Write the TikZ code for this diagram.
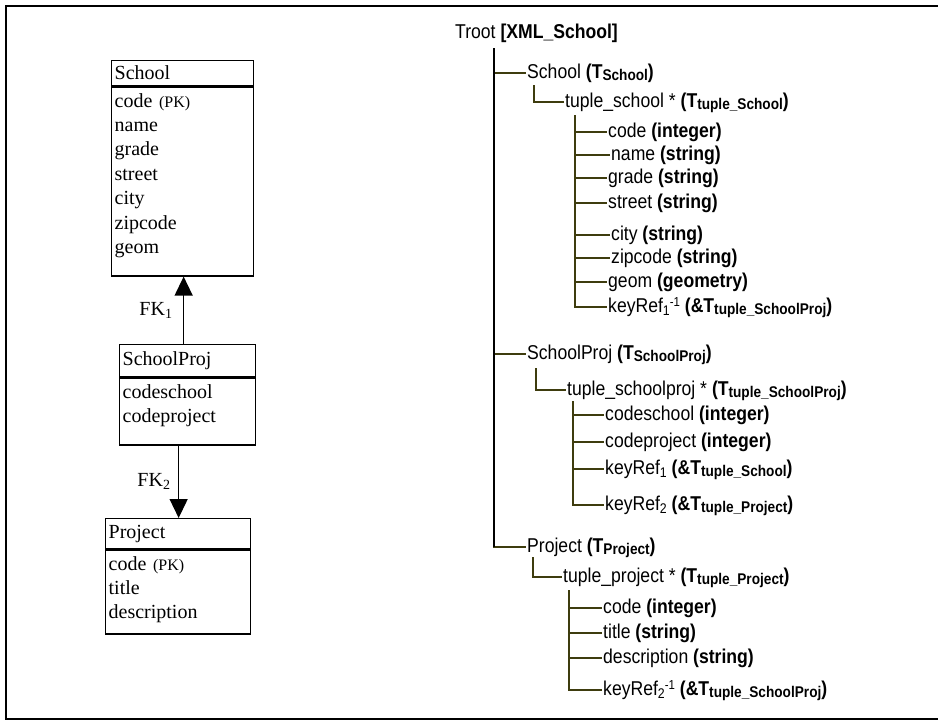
\documentclass[tikz,border=0pt]{standalone}
\usepackage{fontspec}
\setmainfont{Liberation Serif}
\newfontfamily\narrowsans[FakeStretch=0.88]{Liberation Sans}
\usetikzlibrary{arrows.meta}
\definecolor{branch}{RGB}{62,60,14}
% small lowered / raised text
\newcommand{\subtxt}[1]{\raisebox{-2pt}{\fontsize{15.5}{15.5}\selectfont #1}}
\newcommand{\idxlo}[1]{\raisebox{-3pt}{\fontsize{14}{14}\selectfont #1}}
\newcommand{\idxhi}[1]{\raisebox{6pt}{\fontsize{13}{13}\selectfont #1}}
\newcommand{\fieldbox}[2]{\parbox[c][#1][t]{\linewidth}{\strut #2}}

\begin{document}
\begin{tikzpicture}[
      x=1pt, y=-1pt,
      % relational tables on the left
      tabletitle/.style={draw, line width=1.3pt, anchor=north west, inner xsep=3pt,
                         inner ysep=0pt, align=left, font=\fontsize{20}{24.4}\selectfont},
      tablefields/.style={draw, line width=1.3pt, anchor=north west, inner xsep=3pt,
                          inner ysep=3pt, align=left, font=\fontsize{20}{24.4}\selectfont},
      fk/.style={line width=1.3pt, -{Triangle[length=19pt,width=18pt]}},
      fklabel/.style={font=\fontsize{20}{24}\selectfont, inner sep=0pt},
      % the XML type tree on the right
      item/.style={anchor=west, inner xsep=1pt, inner ysep=0pt, text height=14pt,
                   text depth=4pt, font=\narrowsans\fontsize{20}{24}\selectfont},
      trunk/.style={line width=1.4pt, black},
      branchline/.style={line width=1.4pt, draw=branch}
  ]
  \useasboundingbox (0,0) rectangle (938,724);
  % outer frame, open to the right
  \draw[line width=2pt] (6,6) rectangle (950,719);

  %%%%%%%%%%%%%%%%%%%%%%%%%%%%%%%%%%%%%%%%%%%%%%%%%%%%%%%%
  % (1) RELATIONAL SCHEMA
  %%%%%%%%%%%%%%%%%%%%%%%%%%%%%%%%%%%%%%%%%%%%%%%%%%%%%%%%
  \node[tabletitle, text width=136pt, minimum height=25pt] (school) at (111,60) {School};
  \node[tablefields, text width=136pt] (schoolfields) at (school.south west)
    {\fieldbox{183pt}{code {\fontsize{16}{16}\selectfont(PK)}\\name\\grade\\street\\city\\zipcode\\geom}};

  \node[tabletitle, text width=130pt, minimum height=32pt] (schoolproj) at (119,344) {SchoolProj};
  \node[tablefields, text width=130pt] (schoolprojfields) at (schoolproj.south west)
    {\fieldbox{61pt}{codeschool\\codeproject}};

  \node[tabletitle, text width=139pt, minimum height=30pt] (project) at (105,518) {Project};
  \node[tablefields, text width=139pt] (projectfields) at (project.south west)
    {\fieldbox{78pt}{code {\fontsize{16}{16}\selectfont(PK)}\\title\\description}};

  % foreign keys
  \draw[fk] ([xshift=-4pt]schoolproj.north) -- ([xshift=-4pt]schoolproj.north |- schoolfields.south)
    node[fklabel, midway, left=11pt] (fkone) {FK\idxlo{1}};
  \draw[fk] ([xshift=-9pt]schoolprojfields.south) -- ([xshift=-9pt]schoolprojfields.south |- project.north)
    node[fklabel, midway, left=8pt] (fktwo) {FK\idxlo{2}};

  %%%%%%%%%%%%%%%%%%%%%%%%%%%%%%%%%%%%%%%%%%%%%%%%%%%%%%%%
  % (2) XML TYPE TREE
  %%%%%%%%%%%%%%%%%%%%%%%%%%%%%%%%%%%%%%%%%%%%%%%%%%%%%%%%
  \node[item] (troot) at (454,33) {Troot \textbf{[XML\_School]}};
  \coordinate (rootstem) at (494,48);

  % School
  \node[item] (tschool) at (526,73) {School \textbf{(T\subtxt{School})}};
  \coordinate (schoolstem) at (534,85);
  \node[item] (tupleschool) at (564,102) {tuple\_school * \textbf{(T\subtxt{tuple\_School})}};
  \coordinate (tupleschoolstem) at (575,115);
  \node[item] (scode)    at (607,132) {code \textbf{(integer)}};
  \node[item] (sname)    at (610,155) {name \textbf{(string)}};
  \node[item] (sgrade)   at (607,178) {grade \textbf{(string)}};
  \node[item] (sstreet)  at (607,203) {street \textbf{(string)}};
  \node[item] (scity)    at (610,235) {city \textbf{(string)}};
  \node[item] (szipcode) at (610,258) {zipcode \textbf{(string)}};
  \node[item] (sgeom)    at (607,282) {geom \textbf{(geometry)}};
  \node[item] (skeyref)  at (607,307) {keyRef\idxlo{1}\idxhi{-1} \textbf{(\&T\subtxt{tuple\_SchoolProj})}};

  % SchoolProj
  \node[item] (tschoolproj) at (526,354) {SchoolProj \textbf{(T\subtxt{SchoolProj})}};
  \coordinate (schoolprojstem) at (536,368);
  \node[item] (tupleschoolproj) at (566,390) {tuple\_schoolproj * \textbf{(T\subtxt{tuple\_SchoolProj})}};
  \coordinate (tupleschoolprojstem) at (573,401);
  \node[item] (pcodeschool)  at (604,415) {codeschool \textbf{(integer)}};
  \node[item] (pcodeproject) at (604,442) {codeproject \textbf{(integer)}};
  \node[item] (pkeyrefone)   at (604,469) {keyRef\idxlo{1} \textbf{(\&T\subtxt{tuple\_School})}};
  \node[item] (pkeyreftwo)   at (604,505) {keyRef\idxlo{2} \textbf{(\&T\subtxt{tuple\_Project})}};

  % Project
  \node[item] (tproject) at (526,547) {Project \textbf{(T\subtxt{Project})}};
  \coordinate (projectstem) at (533,557);
  \node[item] (tupleproject) at (562,577) {tuple\_project * \textbf{(T\subtxt{tuple\_Project})}};
  \coordinate (tupleprojectstem) at (569,590);
  \node[item] (jcode)    at (602,608) {code \textbf{(integer)}};
  \node[item] (jtitle)   at (602,633) {title \textbf{(string)}};
  \node[item] (jdescr)   at (602,658) {description \textbf{(string)}};
  \node[item] (jkeyref)  at (602,690) {keyRef\idxlo{2}\idxhi{-1} \textbf{(\&T\subtxt{tuple\_SchoolProj})}};

  % branches
  \foreach \n in {tschool, tschoolproj, tproject}
    \draw[branchline] (rootstem) |- (\n.west);
  \draw[branchline] (schoolstem) |- (tupleschool.west);
  \draw[branchline] (schoolprojstem) |- (tupleschoolproj.west);
  \draw[branchline] (projectstem) |- (tupleproject.west);
  \foreach \n in {scode, sname, sgrade, sstreet, scity, szipcode, sgeom, skeyref}
    \draw[branchline] (tupleschoolstem) |- (\n.west);
  \foreach \n in {pcodeschool, pcodeproject, pkeyrefone, pkeyreftwo}
    \draw[branchline] (tupleschoolprojstem) |- (\n.west);
  \foreach \n in {jcode, jtitle, jdescr, jkeyref}
    \draw[branchline] (tupleprojectstem) |- (\n.west);
  \draw[trunk] (rootstem) -- (rootstem |- tproject.west);

\end{tikzpicture}
\end{document}
